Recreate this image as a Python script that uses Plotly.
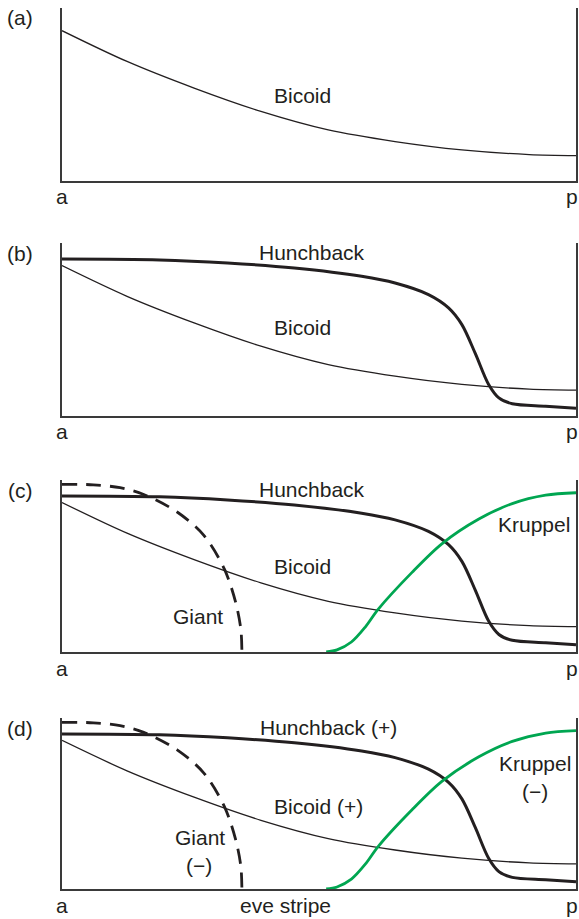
import plotly.graph_objects as go

# Positions along the anterior (a) -> posterior (p) axis, as a fraction of embryo length,
# and relative protein concentration (fraction of panel height).
bicoid_pos = [0, 0.1265, 0.257, 0.387, 0.518, 0.648, 0.778, 0.909, 1]
bicoid_conc = [0.869, 0.691, 0.537, 0.402, 0.295, 0.228, 0.180, 0.153, 0.147]

hunchback_pos = [0, 0.19, 0.322, 0.452, 0.583, 0.648, 0.713, 0.752, 0.778, 0.804, 0.830, 0.850, 0.876, 0.941, 1]
hunchback_conc = [0.907, 0.902, 0.884, 0.855, 0.807, 0.768, 0.701, 0.624, 0.527, 0.36, 0.18, 0.102, 0.068, 0.054, 0.042]

giant_pos = [0, 0.061, 0.113, 0.159, 0.224, 0.276, 0.316, 0.338, 0.348, 0.350]
giant_conc = [0.975, 0.972, 0.955, 0.916, 0.814, 0.678, 0.482, 0.287, 0.131, 0]

kruppel_pos = [0.514, 0.535, 0.563, 0.59, 0.615, 0.681, 0.739, 0.811, 0.876, 0.941, 1]
kruppel_conc = [0, 0.012, 0.058, 0.145, 0.248, 0.463, 0.629, 0.773, 0.863, 0.912, 0.926]

panel_tags = ["(a)", "(b)", "(c)", "(d)"]
axis_end_labels = ["a", "p"]

W, H = 579, 919
INK = "#231f20"
GREEN = "#00a651"
AXIS = "#3a3a3a"
FONT = dict(family="Liberation Sans, Arial, sans-serif", size=21, color=INK)

# pixel rows (top of y-axis, x-axis) for each panel; x-axis spans these pixel columns
panel_rows = [(8, 181), (243, 415.5), (480, 652), (718, 889)]
x_left, x_right = 62, 576


def px(x):
    return x / W


def py(y):
    return 1 - y / H


fig = go.Figure()

# which curves appear in each panel
contents = [
    ["bicoid"],
    ["bicoid", "hunchback"],
    ["bicoid", "hunchback", "giant", "kruppel"],
    ["bicoid", "hunchback", "giant", "kruppel"],
]

styles = {
    "bicoid": (bicoid_pos, bicoid_conc, dict(color=INK, width=1.3)),
    "hunchback": (hunchback_pos, hunchback_conc, dict(color=INK, width=3.0)),
    "giant": (giant_pos, giant_conc, dict(color=INK, width=2.8, dash="15px,9px")),
    "kruppel": (kruppel_pos, kruppel_conc, dict(color=GREEN, width=2.8)),
}

layout_axes = {}
for i, (top, bottom) in enumerate(panel_rows):
    n = "" if i == 0 else str(i + 1)
    xa, ya = "x" + n, "y" + n
    for key in contents[i]:
        xs, ys, line = styles[key]
        fig.add_trace(go.Scatter(
            x=xs, y=ys, mode="lines", xaxis=xa, yaxis=ya,
            line=dict(shape="spline", smoothing=0.9, **line),
            hoverinfo="skip", showlegend=False,
        ))
    layout_axes["xaxis" + n] = dict(
        domain=[px(x_left), px(x_right)], range=[0, 1], anchor=ya,
        showline=True, linecolor=AXIS, linewidth=1.8, mirror=False,
        showgrid=False, zeroline=False, showticklabels=False, ticks="",
    )
    layout_axes["yaxis" + n] = dict(
        domain=[py(bottom), py(top)], range=[0, 1], anchor=xa,
        showline=True, linecolor=AXIS, linewidth=1.8, mirror=True,
        showgrid=False, zeroline=False, showticklabels=False, ticks="",
    )

fig.update_layout(**layout_axes)

annotations = []


def label(text, x, y):
    annotations.append(dict(
        text=text, x=px(x), y=py(y), xref="paper", yref="paper",
        xanchor="center", yanchor="middle", showarrow=False, font=FONT,
    ))


for tag, (top, bottom) in zip(panel_tags, panel_rows):
    label(tag, 20, top + 10)
    label(axis_end_labels[0], x_left, bottom + 16)
    label(axis_end_labels[1], x_right - 4, bottom + 16)

label("Bicoid", 302, 95)

label("Hunchback", 311.5, 252)
label("Bicoid", 302.5, 327)

label("Hunchback", 311.5, 489)
label("Bicoid", 302.5, 566)
label("Giant", 198, 616)
label("Kruppel", 534, 524)

label("Hunchback (+)", 328, 727)
label("Bicoid (+)", 318.5, 806)
label("Giant", 200, 837)
label("(\u2212)", 199, 865)
label("Kruppel", 535, 763)
label("(\u2212)", 535, 791)
label("eve stripe", 285, 905)

fig.update_layout(
    width=W, height=H, margin=dict(l=0, r=0, t=0, b=0),
    paper_bgcolor="white", plot_bgcolor="white",
    annotations=annotations, showlegend=False,
)

fig.write_html("out.html", config={"displayModeBar": False})
